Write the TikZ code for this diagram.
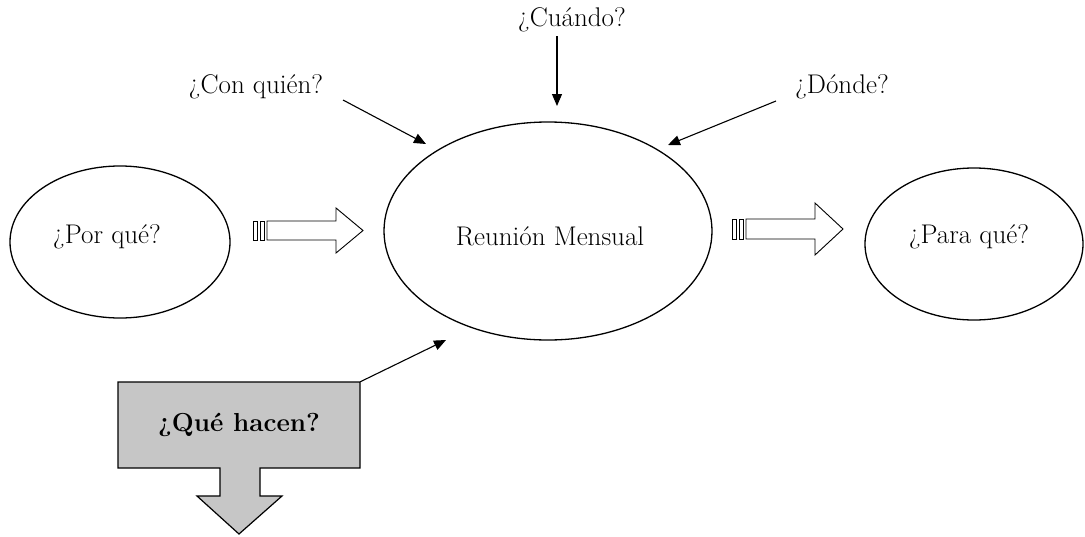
\documentclass[tikz,border=0pt]{standalone}
\usetikzlibrary{shapes.geometric,arrows.meta}
\begin{document}
\begin{tikzpicture}[x=1pt,y=-1pt,
  txt/.style={inner sep=0pt,font=\fontsize{27}{32}\selectfont},
  oval/.style={draw,ellipse,line width=1.3pt,inner sep=0pt,font=\fontsize{27}{32}\selectfont},
  thinarrow/.style={line width=1.1pt,-{Triangle[length=12pt,width=10pt]}},
  hollow/.style={draw,line width=0.9pt,fill=white},
  qbox/.style={draw,line width=1.2pt,fill=gray!45}]
\useasboundingbox (0,0) rectangle (1085,536);
% ellipses
\node[oval,minimum width=220pt,minimum height=152pt] (porque) at (120,242) {};
\node[txt] (porquet) at (107,237) {¿Por qué?};
\node[oval,minimum width=328pt,minimum height=218pt] (main) at (548,231) {};
\node[txt] (maint) at (550,236) {Reunión Mensual};
\node[oval,minimum width=218pt,minimum height=152pt] (paraque) at (974,244) {};
\node[txt] (paraquet) at (969,237) {¿Para qué?};
% question labels
\node[txt] (cuando) at (572,20) {¿Cuándo?};
\node[txt] (conquien) at (256,87) {¿Con quién?};
\node[txt] (donde) at (842,87) {¿Dónde?};
% arrow end points
\coordinate (cuS) at (557,36);
\coordinate (cuE) at (557,106);
\coordinate (cqS) at (343,100);
\coordinate (cqE) at (426,144);
\coordinate (doS) at (776,101);
\coordinate (doE) at (668,145);
\coordinate (quE) at (446,340);
\draw[thinarrow] (cuS) -- (cuE);
\draw[thinarrow] (cqS) -- (cqE);
\draw[thinarrow] (doS) -- (doE);
% hollow striped arrows
\draw[hollow] (253,221) rectangle (257,240);
\draw[hollow] (260,221) rectangle (264,240);
\draw[hollow] (267,221) -- (336,221) -- (336,208) -- (363,230.5) -- (336,253) -- (336,240) -- (267,240) -- cycle;
\draw[hollow] (732,219) rectangle (736,239);
\draw[hollow] (739,219) rectangle (743,239);
\draw[hollow] (746,219) -- (815,219) -- (815,203) -- (843,229) -- (815,255) -- (815,239) -- (746,239) -- cycle;
% que hacen box with down arrow
\draw[qbox] (118,382) -- (360,382) -- (360,468) -- (260,468) -- (260,496) -- (282,496) -- (239,534) -- (197,496) -- (220,496) -- (220,468) -- (118,468) -- cycle;
\node[inner sep=0pt,minimum width=242pt,minimum height=86pt,font=\fontsize{26}{31}\selectfont\bfseries] (que) at (239,425) {\raisebox{-5pt}{¿Qué hacen?}};
\draw[thinarrow] (que.north east) -- (quE);
\end{tikzpicture}
\end{document}
